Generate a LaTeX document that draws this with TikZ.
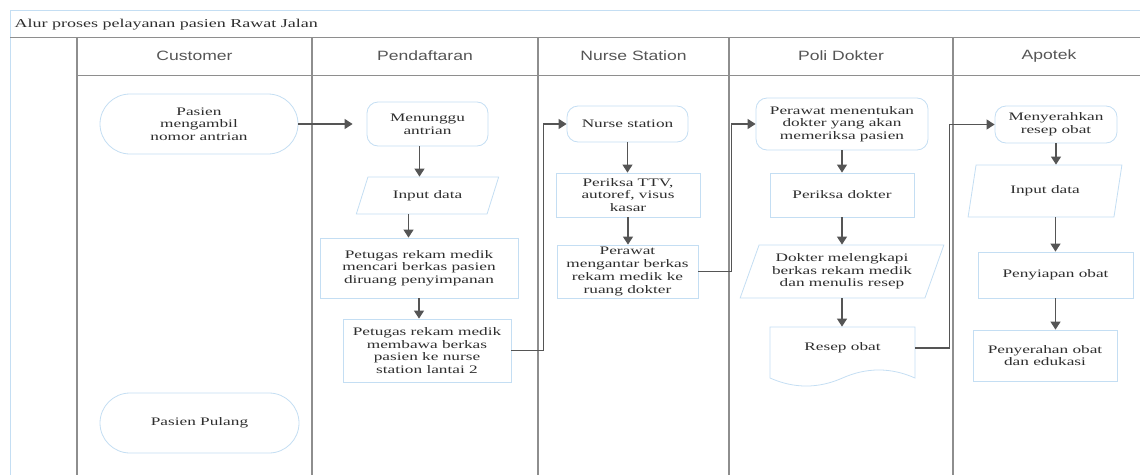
\documentclass[tikz,border=0pt]{standalone}
\usepackage{fontspec}
\setmainfont[FakeStretch=1.5]{Liberation Serif}
\newfontfamily\lanefont[FakeStretch=1.3]{Liberation Sans}
\usetikzlibrary{arrows.meta,shapes.geometric}
\definecolor{boxblue}{HTML}{C4DEF3}
\definecolor{lanegray}{HTML}{8E8E8E}
\definecolor{arrgray}{HTML}{555555}
\definecolor{txtgray}{HTML}{2E2E2E}

\begin{document}
\begin{tikzpicture}[x=1pt,y=-1pt,
  box/.style={draw=boxblue,line width=0.8pt,fill=white,text=txtgray,align=center,inner sep=0pt,font=\fontsize{11.5}{12.7}\selectfont},
  term/.style={box,rounded corners=30},
  proc/.style={box,rectangle},
  soft/.style={box,rounded corners=11},
  io/.style={box,trapezium,trapezium stretches=true},
  lanehead/.style={text=arrgray,font=\lanefont\fontsize{13.5}{14}\selectfont},
  arr/.style={draw=arrgray,line width=1.2pt,-{Triangle[length=8pt,width=10pt]}}]
  \clip (0,0) rectangle (1140,474);
  \draw[boxblue,line width=0.8pt] (10,480) -- (10,10) -- (1150,10);
  \draw[lanegray,line width=1pt] (10,37) -- (1150,37); \draw[lanegray,line width=0.8pt] (77,75) -- (1150,75);
  \foreach \x in {77,312,538,729,953} \draw[lanegray,line width=1.4pt] (\x,37) -- (\x,480);
  \node[anchor=base west,text=txtgray,font=\fontsize{12}{13}\selectfont] (judul) at (11,27) {Alur proses pelayanan pasien Rawat Jalan};
  \node[lanehead] (hcust) at (194.5,56) {Customer}; \node[lanehead] (hdaftar) at (425,56) {Pendaftaran};
  \node[lanehead] (hnurse) at (633.5,56) {Nurse Station}; \node[lanehead] (hpoli) at (841,56) {Poli Dokter};
  \node[lanehead] (hapotek) at (1049,56) {Apotek};

  \node[term,minimum width=198,minimum height=60] (ambil) at (199,124) {Pasien\\mengambil\\nomor antrian};
  \node[term,minimum width=199,minimum height=60] (pulang) at (199.5,423) {Pasien Pulang};

  \node[soft,minimum width=121,minimum height=44] (tunggu) at (427.5,124) {Menunggu\\antrian};
  \node[io,minimum width=143,minimum height=37,trapezium left angle=57,trapezium right angle=123] (inputa) at (427.5,195.5) {Input data};
  \node[proc,minimum width=198,minimum height=60] (cari) at (419,268) {Petugas rekam medik\\mencari berkas pasien\\diruang penyimpanan};
  \node[proc,minimum width=168,minimum height=63] (bawa) at (427,350.5) {Petugas rekam medik\\membawa berkas\\pasien ke nurse\\station lantai 2};

  \node[soft,minimum width=121,minimum height=36] (nurse) at (627.5,124) {Nurse station};
  \node[proc,minimum width=144,minimum height=44] (ttv) at (628,195) {Periksa TTV,\\autoref, visus\\kasar};
  \node[proc,minimum width=141,minimum height=53] (antar) at (627.5,271.5) {Perawat\\mengantar berkas\\rekam medik ke\\ruang dokter};

  \node[soft,minimum width=172,minimum height=52] (tentukan) at (842,124) {Perawat menentukan\\dokter yang akan\\memeriksa pasien};
  \node[proc,minimum width=144,minimum height=44] (periksa) at (842,195) {Periksa dokter};
  \node[io,minimum width=204,minimum height=53,trapezium left angle=66,trapezium right angle=114] (lengkap) at (842,271.5) {Dokter melengkapi\\berkas rekam medik\\dan menulis resep};
  \node[box,draw=none,fill=none,minimum width=145,minimum height=42] (resep) at (842.5,348) {Resep obat};
  \draw[boxblue,line width=0.8pt] (770,327) -- (915,327) -- (915,378) .. controls (890.8,367.3) and (866.7,367.3) .. (842.5,378) .. controls (818.3,388.7) and (794.2,388.7) .. (770,378) -- cycle;

  \node[soft,minimum width=122,minimum height=37] (serah) at (1056,124.5) {Menyerahkan\\resep obat};
  \node[io,minimum width=154,minimum height=52,trapezium left angle=69,trapezium right angle=111] (inputb) at (1045,191) {Input data};
  \node[proc,minimum width=155,minimum height=46] (siap) at (1055.5,275) {Penyiapan obat};
  \node[proc,minimum width=144,minimum height=51] (edukasi) at (1045,355.5) {Penyerahan obat\\dan edukasi};

  \draw[arr,shorten >=14pt] (ambil.east) -- (tunggu.west);
  \draw[arr] ([xshift=-8pt]tunggu.south) -- ([xshift=-8pt]tunggu.south |- inputa.north);
  \draw[arr] ([xshift=-19pt]inputa.south) -- ([xshift=-19pt]inputa.south |- cari.north);
  \draw[arr] (cari.south) -- (cari.south |- bawa.north);
  \draw[arr] (bawa.east) -- ++(32,0) |- (nurse.west);
  \draw[arr] (nurse.south) -- (nurse.south |- ttv.north);
  \draw[arr] (ttv.south) -- (ttv.south |- antar.north);
  \draw[arr] (antar.east) -- ++(33,0) |- (tentukan.west);
  \draw[arr] (tentukan.south) -- (tentukan.south |- periksa.north);
  \draw[arr] (periksa.south) -- (periksa.south |- lengkap.north);
  \draw[arr] (lengkap.south) -- (lengkap.south |- resep.north);
  \draw[arr] (resep.east) -- ++(34,0) |- (serah.west);
  \draw[arr] (serah.south) -- (serah.south |- inputb.north);
  \draw[arr] (siap.north |- inputb.south) -- (siap.north);
  \draw[arr] (siap.south) -- (siap.south |- edukasi.north);
\end{tikzpicture}
\end{document}
